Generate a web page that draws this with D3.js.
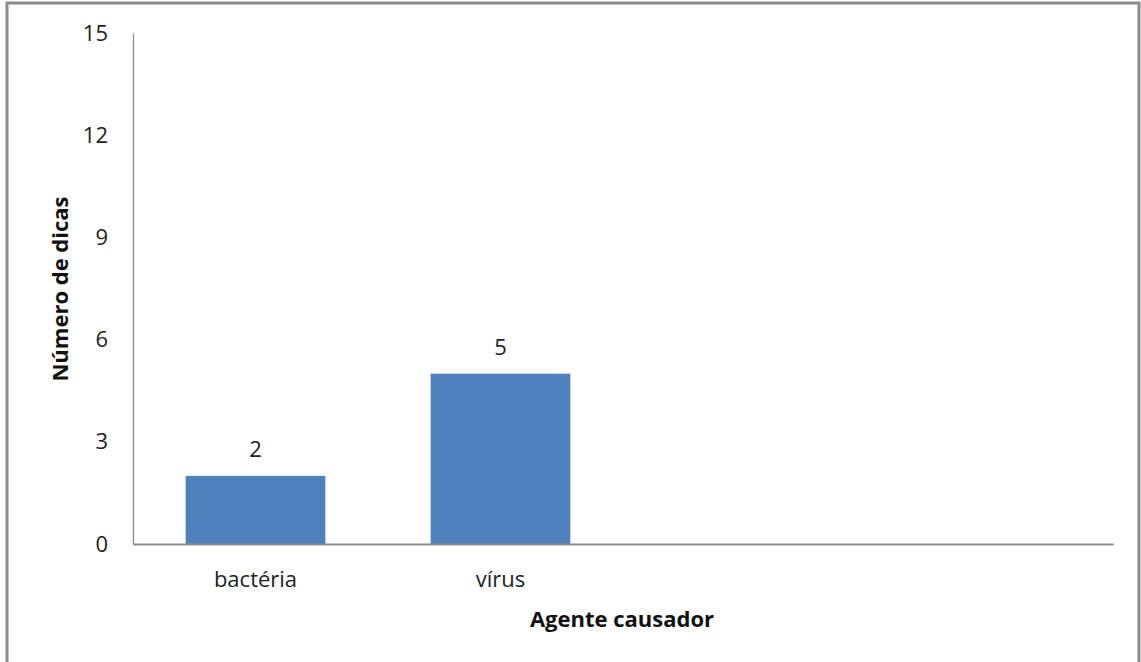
<!DOCTYPE html>
<html><head><meta charset="utf-8">
<script src="https://cdn.jsdelivr.net/npm/d3@7"></script>
<style>body{margin:0;background:#fff}svg{display:block}</style>
</head><body>
<svg id="c" width="1141" height="662"></svg>
<script>
const categories = ["bactéria", "vírus", "", " "];
const values = [2, 5, null, null];
const yTicks = [0, 3, 6, 9, 12, 15];
const xTitle = "Agente causador";
const yTitle = "Número de dicas";

const svg = d3.select("#c");
const font = "'Open Sans', sans-serif";
const m = {left: 133, top: 33, right: 1113, bottom: 544};

svg.append("rect").attr("x", 7).attr("y", 3).attr("width", 1132).attr("height", 720)
  .attr("fill", "#fff").attr("stroke", "#8c8c8c").attr("stroke-width", 3);

const x = d3.scaleBand().domain(categories).range([m.left, m.right]).paddingInner(0.43).paddingOuter(0.215);
const y = d3.scaleLinear().domain([0, 15]).range([m.bottom, m.top]);

// bars
const data = categories.map((c, i) => ({c, v: values[i]})).filter(d => d.v != null);
svg.selectAll("rect.bar").data(data).join("rect").attr("class", "bar")
  .attr("x", d => x(d.c)).attr("width", x.bandwidth())
  .attr("y", d => y(d.v)).attr("height", d => y(0) - y(d.v))
  .attr("fill", "#4f81bd");

svg.selectAll("text.lbl").data(data).join("text").attr("class", "lbl")
  .attr("x", d => x(d.c) + x.bandwidth() / 2).attr("y", d => y(d.v) - 19)
  .attr("text-anchor", "middle").attr("font-family", font).attr("font-size", 22).attr("fill", "#222")
  .text(d => d.v);

// y axis
const yAxis = svg.append("g").attr("transform", `translate(${m.left},0)`)
  .call(d3.axisLeft(y).tickValues(yTicks).tickSize(0).tickPadding(25));
yAxis.select(".domain").attr("stroke", "#8c8c8c").attr("stroke-width", 1.3);
yAxis.selectAll("text").attr("font-family", font).attr("font-size", 22).attr("fill", "#222");

// x axis
const xAxis = svg.append("g").attr("transform", `translate(0,${m.bottom})`)
  .call(d3.axisBottom(x).tickSize(0).tickPadding(27));
xAxis.select(".domain").attr("stroke", "#8c8c8c").attr("stroke-width", 2);
xAxis.selectAll("text").attr("font-family", font).attr("font-size", 22).attr("fill", "#222");

svg.append("text").attr("x", 622).attr("y", 627).attr("text-anchor", "middle")
  .attr("font-family", font).attr("font-weight", "bold").attr("font-size", 22).attr("fill", "#111")
  .text(xTitle);
svg.append("text").attr("transform", "translate(68,289) rotate(-90)").attr("text-anchor", "middle")
  .attr("font-family", font).attr("font-weight", "bold").attr("font-size", 22).attr("fill", "#111")
  .text(yTitle);
</script>
</body></html>
